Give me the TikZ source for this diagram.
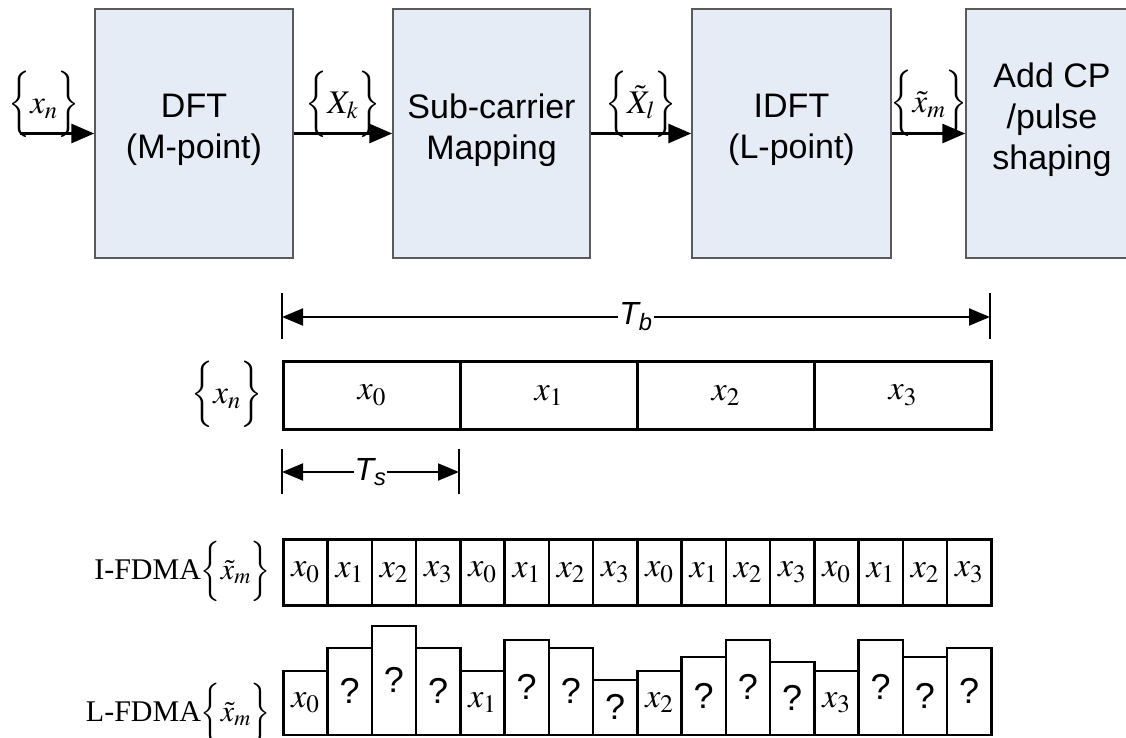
\documentclass[tikz,border=0pt]{standalone}
\usepackage{mathptmx}
\usepackage{fontspec}
\setmainfont{Liberation Serif}
\setsansfont{Liberation Sans}
\usetikzlibrary{arrows.meta}
\definecolor{blkfill}{RGB}{229,236,246}
\definecolor{blkline}{RGB}{90,90,90}
\tikzset{
  blk/.style={draw=blkline, fill=blkfill, line width=1.5pt, minimum height=249pt, inner sep=0pt},
  blktxt/.style={font=\sffamily\fontsize{34}{41}\selectfont, align=center, inner sep=0pt},
  flow/.style={line width=3pt, -{Triangle[length=23pt,width=19pt]}},
  dimarr/.style={line width=2pt, {Triangle[length=21pt,width=17pt]}-{Triangle[length=21pt,width=17pt]}},
  tickline/.style={line width=2pt},
  mlbl/.style={font=\fontsize{33}{40}\selectfont, inner sep=0pt},
  rlbl/.style={font=\fontsize{30}{36}\selectfont, inner sep=0pt},
  cell/.style={draw, line width=2.5pt, inner sep=0pt, font=\fontsize{34}{40}\selectfont},
  dimlbl/.style={font=\sffamily\itshape\fontsize{32}{36}\selectfont, fill=white, inner sep=1pt},
}
\newcommand{\qmk}{{\sffamily\fontsize{36}{40}\selectfont ?}}
\newcommand{\tbrace}[1]{\scalebox{1}[1.12]{$\Big#1$}}
\begin{document}
\begin{tikzpicture}[x=1pt,y=-1pt]
\useasboundingbox (0,0) rectangle (1126,738);
\clip (0,0) rectangle (1126,738);
% ---- blocks
\node[blk, minimum width=198pt] (dft)  at (194,133.5) {};
\node[blk, minimum width=197pt] (scm)  at (491.5,133.5) {};
\node[blk, minimum width=199pt] (idft) at (791.5,133.5) {};
\node[blk, minimum width=200pt] (cp)   at (1066,133.5) {};
\node[blktxt] (dftt)  at (194,130)   {DFT\\(M-point)};
\node[blktxt] (scmt)  at (491.5,130) {Sub-carrier\\Mapping};
\node[blktxt] (idftt) at (791.5,130) {IDFT\\(L-point)};
\node[blktxt] (cpt)   at (1052,120)  {Add CP\\/pulse\\shaping};
% ---- flow arrows
\coordinate (in) at (20,133.5);
\draw[flow] (in) -- (dft.west);
\draw[flow] (dft.east) -- (scm.west);
\draw[flow] (scm.east) -- (idft.west);
\draw[flow] (idft.east) -- (cp.west);
\node[mlbl] (lxn) at (44,104)  {\tbrace\{$x_n$\tbrace\}};
\node[mlbl] (lXk) at (343,104) {\tbrace\{$X_k$\tbrace\}};
\node[mlbl] (lXl) at (641,104) {\tbrace\{$\tilde X_l$\tbrace\}};
\node[mlbl] (lxm) at (929,103) {\tbrace\{$\tilde x_m$\tbrace\}};
% ---- T_b
\coordinate (tbl) at (282,317);
\coordinate (tbr) at (990,317);
\draw[tickline] (tbl) ++(0,-24) -- ++(0,46);
\draw[tickline] (tbr) ++(0,-24) -- ++(0,46);
\draw[dimarr] (tbl) -- (tbr) node[midway, dimlbl] (tb) {T\textsubscript{b}};
% ---- x row
\foreach \i in {0,...,3}{
  \node[cell, anchor=north west, minimum width=177pt, minimum height=68pt] (x\i) at (282+177*\i,360) {$x_\i$};
}
\node[mlbl, anchor=east] (lxrow) at (263,394) {\tbrace\{$x_n$\tbrace\}};
% ---- T_s
\coordinate (tsl) at (282,472);
\coordinate (tsr) at (459,472);
\draw[tickline] (tsl) ++(0,-23) -- ++(0,45);
\draw[tickline] (tsr) ++(0,-23) -- ++(0,45);
\draw[dimarr] (tsl) -- (tsr) node[midway, dimlbl] (ts) {T\textsubscript{s}};
% ---- I-FDMA
\foreach \i in {0,...,15}{
  \pgfmathtruncatemacro\k{mod(\i,4)}
  \node[cell, anchor=north west, minimum width=44.25pt, minimum height=66pt] (i\i) at (282+44.25*\i,538) {$x_\k$};
}
\node[rlbl, anchor=east] (lif) at (271,571) {I-FDMA\tbrace\{$\tilde x_m$\tbrace\}};
% ---- L-FDMA
\foreach \t/\lab [count=\i from 0] in {672/{$x_0$},649/\qmk,627/\qmk,649/\qmk,
   672/{$x_1$},641/\qmk,649/\qmk,681/\qmk,
   672/{$x_2$},658/\qmk,641/\qmk,663/\qmk,
   672/{$x_3$},641/\qmk,658/\qmk,649/\qmk}{
  \pgfmathsetmacro\hh{736-\t}
  \node[cell, anchor=south west, minimum width=44.25pt, minimum height=\hh pt] (l\i) at (282+44.25*\i,736) {\lab};
}
\node[rlbl, anchor=east] (llf) at (271,713) {L-FDMA\tbrace\{$\tilde x_m$\tbrace\}};
\end{tikzpicture}
\end{document}
